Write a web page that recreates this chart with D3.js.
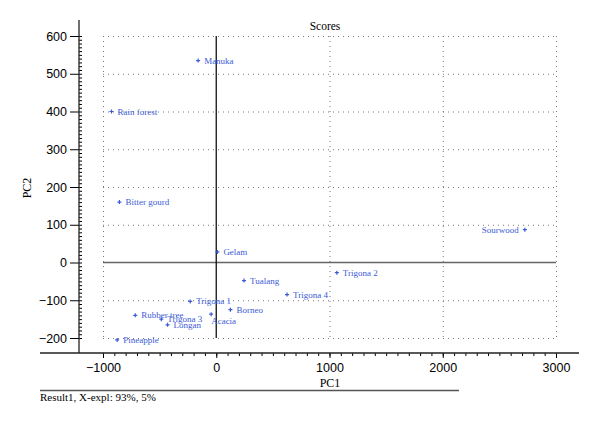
<!DOCTYPE html>
<html>
<head>
<meta charset="utf-8">
<script src="https://cdn.jsdelivr.net/npm/d3@7"></script>
<style>
  body { margin: 0; background: #fff; }
  text { font-family: "Liberation Serif", serif; }
  .tick text { font-family: "Liberation Sans", sans-serif; font-size: 12.5px; fill: #000; }
</style>
</head>
<body>
<div class="svg-container"></div>
<script>
// honey samples, PCA scores
var names = ["Manuka", "Rain forest", "Bitter gourd", "Gelam", "Sourwood", "Trigona 2", "Tualang",
             "Trigona 4", "Trigona 1", "Borneo", "Acacia", "Rubber tree", "Trigona 3", "Longan", "Pineapple"];
var pc1 = [-160, -925, -855, 10, 2725, 1065, 245, 625, -230, 125, -45, -715, -485, -430, -875];
var pc2 = [535, 400, 160, 28, 87, -27, -48, -85, -103, -125, -137, -140, -150, -165, -205];
var xTicks = [-1000, 0, 1000, 2000, 3000];
var yTicks = [-200, -100, 0, 100, 200, 300, 400, 500, 600];

var width = 600, height = 425;
var blue = "#3b5bd6";

var svg = d3.select(".svg-container").append("svg")
  .attr("width", width)
  .attr("height", height);

var x = d3.scaleLinear().domain([-1000, 3000]).range([103, 556]);
var y = d3.scaleLinear().domain([-200, 600]).range([338, 36]);

// dotted grid
var grid = svg.append("g").attr("stroke", "#777").attr("stroke-width", 1)
  .attr("stroke-dasharray", "1,4");
grid.selectAll("line.h").data(yTicks.filter(function(d){ return d != 0; }))
  .enter().append("line")
  .attr("x1", x(-1000)).attr("x2", x(3000))
  .attr("y1", function(d){ return y(d) + 0.5; }).attr("y2", function(d){ return y(d) + 0.5; });
grid.selectAll("line.v").data(xTicks.filter(function(d){ return d != 0; }))
  .enter().append("line")
  .attr("x1", function(d){ return x(d) + 0.5; }).attr("x2", function(d){ return x(d) + 0.5; })
  .attr("y1", y(600)).attr("y2", y(-200));

// zero lines
svg.append("line")
  .attr("x1", x(-1000)).attr("x2", x(3000))
  .attr("y1", y(0)).attr("y2", y(0))
  .attr("stroke", "#666").attr("stroke-width", 1.5);
svg.append("line")
  .attr("x1", x(0)).attr("x2", x(0))
  .attr("y1", y(600)).attr("y2", y(-200))
  .attr("stroke", "#111").attr("stroke-width", 1.3);

// axes
var axisY = 353, axisX = 79;
var fmt = d3.format("d");

var minorX = d3.range(-1000, 3001, 100);
svg.append("g").attr("transform", "translate(0," + axisY + ")")
  .call(d3.axisBottom(x).tickValues(minorX).tickSize(3).tickFormat(""))
  .call(function(g){ g.select(".domain").remove(); });
svg.append("g").attr("transform", "translate(0," + axisY + ")")
  .call(d3.axisBottom(x).tickValues(xTicks).tickSize(5).tickPadding(5).tickFormat(fmt))
  .call(function(g){ g.select(".domain").remove(); });

var minorY = d3.range(-200, 601, 10);
svg.append("g").attr("transform", "translate(" + axisX + ",0)")
  .call(d3.axisRight(y).tickValues(minorY).tickSize(3).tickFormat(""))
  .call(function(g){ g.select(".domain").remove(); });
svg.append("g").attr("transform", "translate(" + axisX + ",0)")
  .call(d3.axisLeft(y).tickValues(yTicks).tickSize(9).tickPadding(3).tickFormat(fmt))
  .call(function(g){ g.select(".domain").remove(); });

svg.append("line").attr("x1", 40).attr("x2", 579).attr("y1", axisY).attr("y2", axisY)
  .attr("stroke", "#222").attr("stroke-width", 1.3);
svg.append("line").attr("x1", axisX).attr("x2", axisX).attr("y1", 20).attr("y2", axisY)
  .attr("stroke", "#222").attr("stroke-width", 1.3);

// points
var pts = names.map(function(n, i){ return {name: n, x: pc1[i], y: pc2[i]}; });
var g = svg.append("g");
g.selectAll("path.pt").data(pts).enter().append("path")
  .attr("d", function(d){
    var cx = x(d.x), cy = y(d.y);
    return "M" + (cx - 2) + "," + cy + "H" + (cx + 2) + "M" + cx + "," + (cy - 2) + "V" + (cy + 2);
  })
  .attr("stroke", blue).attr("stroke-width", 1.2);

// label placement: most sit to the right, a couple are nudged like the original
function labelDx(d) {
  if (d.name == "Sourwood") return -6;
  if (d.name == "Acacia") return 0;
  return 6;
}
function labelDy(d) {
  if (d.name == "Acacia") return 10;
  return 3;
}

g.selectAll("text.lbl").data(pts).enter().append("text")
  .attr("x", function(d){ return x(d.x) + labelDx(d); })
  .attr("y", function(d){ return y(d.y) + labelDy(d); })
  .attr("text-anchor", function(d){ return d.name == "Sourwood" ? "end" : "start"; })
  .attr("font-size", 9)
  .attr("fill", blue)
  .text(function(d){ return d.name; });

// titles
svg.append("text").attr("x", 325).attr("y", 30).attr("text-anchor", "middle")
  .attr("font-size", 11.5).text("Scores");
svg.append("text").attr("x", 330).attr("y", 387).attr("text-anchor", "middle")
  .attr("font-size", 12).text("PC1");
svg.append("text").attr("transform", "translate(31,188) rotate(-90)").attr("text-anchor", "middle")
  .attr("font-size", 12).text("PC2");
svg.append("line").attr("x1", 40).attr("x2", 459).attr("y1", 390.5).attr("y2", 390.5)
  .attr("stroke", "#555").attr("stroke-width", 1.5);
svg.append("text").attr("x", 40).attr("y", 401)
  .attr("font-size", 11).text("Result1, X-expl: 93%, 5%");
</script>
</body>
</html>
